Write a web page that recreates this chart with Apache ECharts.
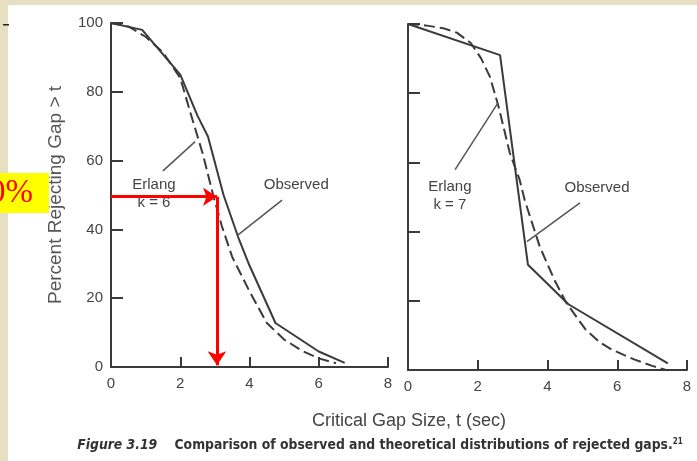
<!DOCTYPE html>
<html><head><meta charset="utf-8">
<script src="https://cdn.jsdelivr.net/npm/echarts@6/dist/echarts.min.js"></script>
<style>html,body{margin:0;padding:0;background:#e6dfc0;}#c{width:697px;height:461px;}</style>
</head><body><div id="c"></div>
<script>
// ---- data ----
const xTickLabels = ['0','2','4','6','8'];
const yTickLabels = ['0','20','40','60','80','100'];
const leftObsT = [0, 0.9, 2, 2.5, 2.8, 3.25, 3.7, 4, 4.75, 6, 6.75];
const leftObsV = [100, 98, 85, 73, 67, 50, 37, 29.5, 12.8, 4.5, 1.2];
const leftErlT = [0, 0.5, 1, 1.5, 2, 2.35, 2.65, 2.95, 3.2, 3.5, 4, 4.5, 5, 5.5, 6, 6.5];
const leftErlV = [100, 99, 96, 91.5, 84, 72, 62, 50, 41, 32, 22, 12.8, 8, 4.8, 2.5, 1.1];
const rightObsT = [0, 2.64, 3.44, 4.6, 7.45];
const rightObsV = [100, 91, 30.4, 19, 1.9];
const rightErlT = [0, 0.5, 1, 1.4, 1.8, 2.1, 2.35, 2.6, 2.92, 3.2, 3.35, 3.78, 4.2, 4.54, 5.1, 5.5, 5.86, 6.5, 7, 7.4];
const rightErlV = [100, 99.6, 98.8, 97.5, 94.5, 90, 84.7, 76, 62.7, 55, 49, 35.6, 26, 19.4, 11.6, 8, 5.8, 3, 1.2, 0];
// annotation anchors (data coords)
const arrowT = 3.06, arrowV = 49.5;
const leftErlLeader = [[1.5, 57], [2.43, 65.5]];
const leftObsLeader = [[4.94, 48.5], [3.67, 38.4]];
const rightErlLeader = [[1.35, 57.9], [2.58, 77.2]];
const rightObsLeader = [[4.93, 48.3], [3.41, 37.1]];
const leftLabels = [{text: 'Erlang\nk = 6', at: [1.24, 50.3]}, {text: 'Observed', at: [5.35, 52.9]}];
const rightLabels = [{text: 'Erlang\nk = 7', at: [1.2, 50.2]}, {text: 'Observed', at: [5.42, 52.7]}];

const zip = (a, b) => a.map((v, i) => [v, b[i]]);
const INK = '#3a3a3a';
const FONT = 'Liberation Sans, Arial, sans-serif';

function xAxis(gi) {
  return {
    type: 'value', gridIndex: gi, min: 0, max: 8, interval: 2,
    axisLine: {show: true, onZero: false, lineStyle: {color: INK, width: 2}},
    axisTick: {show: true, inside: true, length: 10, lineStyle: {color: INK, width: 2}},
    axisLabel: {show: true, margin: 9, color: '#444', fontSize: 15, fontFamily: FONT,
      formatter: v => xTickLabels[v / 2]},
    splitLine: {show: false}
  };
}
function yAxis(gi, labels) {
  const a = {
    type: 'value', gridIndex: gi, min: 0, max: 100, interval: 20,
    axisLine: {show: true, onZero: false, lineStyle: {color: INK, width: 2}},
    axisTick: {show: true, inside: true, length: 12, lineStyle: {color: INK, width: 2}},
    axisLabel: {show: labels, margin: 8, color: '#444', fontSize: 15, fontFamily: FONT,
      formatter: v => yTickLabels[v / 20]},
    splitLine: {show: false}
  };
  if (labels) {
    a.name = 'Percent Rejecting Gap > t';
    a.nameLocation = 'middle';
    a.nameGap = 46;
    a.nameTextStyle = {color: '#555', fontSize: 19, fontFamily: FONT};
  }
  return a;
}
function labelPoints(list) {
  return list.map(l => ({coord: l.at, value: l.text, symbolSize: 0,
    label: {show: true, position: 'inside', formatter: l.text, color: '#444', fontSize: 15,
      fontFamily: FONT, lineHeight: 18}}));
}

const chart = echarts.init(document.getElementById('c'), null, {renderer: 'canvas'});
chart.setOption({
  animation: false,
  backgroundColor: '#e6dfc0',
  graphic: [
    {type: 'rect', z: -10, shape: {x: 8, y: 5, width: 700, height: 470}, style: {fill: '#ffffff'}},
    {type: 'rect', z: 10, shape: {x: 3, y: 24, width: 6, height: 1.5}, style: {fill: '#222'}},
    {type: 'rect', z: 10, shape: {x: 0, y: 173, width: 49, height: 40}, style: {fill: '#ffff00'}},
    {type: 'text', z: 11, style: {x: 33, y: 193, text: '50%', textAlign: 'right', textVerticalAlign: 'middle',
      fill: '#ff0000', font: '33px "Liberation Serif", "Times New Roman", serif'}}
  ],
  title: [
    {text: 'Critical Gap Size, t (sec)', left: 404, top: 407, textAlign: 'center',
      textStyle: {color: '#444', fontSize: 18, fontWeight: 'normal', fontFamily: FONT}},
    {text: '{i|Figure 3.19}    Comparison of observed and theoretical distributions of rejected gaps.{s|21}',
      left: 375, top: 433, textAlign: 'center',
      textStyle: {color: '#333', fontSize: 13.8, fontWeight: 'bold', fontFamily: 'DejaVu Sans Condensed, Liberation Sans Narrow, sans-serif',
        rich: {i: {fontStyle: 'italic', fontWeight: 'bold', fontSize: 13.8, color: '#333', fontFamily: 'DejaVu Sans Condensed, sans-serif'},
               s: {fontSize: 8, verticalAlign: 'top', fontWeight: 'bold', color: '#333', padding: [0, 0, 6, 0]}}}}
  ],
  grid: [
    {left: 111, top: 23, width: 277, height: 344},
    {left: 408, top: 24, width: 279, height: 346}
  ],
  xAxis: [xAxis(0), xAxis(1)],
  yAxis: [yAxis(0, true), yAxis(1, false)],
  series: [
    {type: 'line', xAxisIndex: 0, yAxisIndex: 0, data: zip(leftObsT, leftObsV), showSymbol: false,
      lineStyle: {color: INK, width: 2}, z: 3,
      markPoint: {silent: true, symbol: 'circle', data: labelPoints(leftLabels)},
      markLine: {silent: true, symbol: 'none', label: {show: false}, lineStyle: {color: '#555', width: 1.5, type: 'solid'},
        data: [[{coord: leftErlLeader[0]}, {coord: leftErlLeader[1]}], [{coord: leftObsLeader[0]}, {coord: leftObsLeader[1]}]]}},
    {type: 'line', xAxisIndex: 0, yAxisIndex: 0, data: zip(leftErlT, leftErlV), showSymbol: false,
      lineStyle: {color: INK, width: 2, type: [11, 5]}, z: 3,
      markLine: {silent: true, symbol: ['none', 'arrow'], symbolSize: 14, label: {show: false},
        lineStyle: {color: '#ff0000', width: 3, type: 'solid'}, z: 20,
        data: [[{coord: [0, arrowV]}, {coord: [arrowT, arrowV]}], [{coord: [arrowT, arrowV]}, {coord: [arrowT, 0.5]}]]}},
    {type: 'line', xAxisIndex: 1, yAxisIndex: 1, data: zip(rightObsT, rightObsV), showSymbol: false,
      lineStyle: {color: INK, width: 2}, z: 3,
      markPoint: {silent: true, symbol: 'circle', data: labelPoints(rightLabels)},
      markLine: {silent: true, symbol: 'none', label: {show: false}, lineStyle: {color: '#555', width: 1.5, type: 'solid'},
        data: [[{coord: rightErlLeader[0]}, {coord: rightErlLeader[1]}], [{coord: rightObsLeader[0]}, {coord: rightObsLeader[1]}]]}},
    {type: 'line', xAxisIndex: 1, yAxisIndex: 1, data: zip(rightErlT, rightErlV), showSymbol: false,
      lineStyle: {color: INK, width: 2, type: [11, 5]}, z: 3}
  ]
});
</script></body></html>
